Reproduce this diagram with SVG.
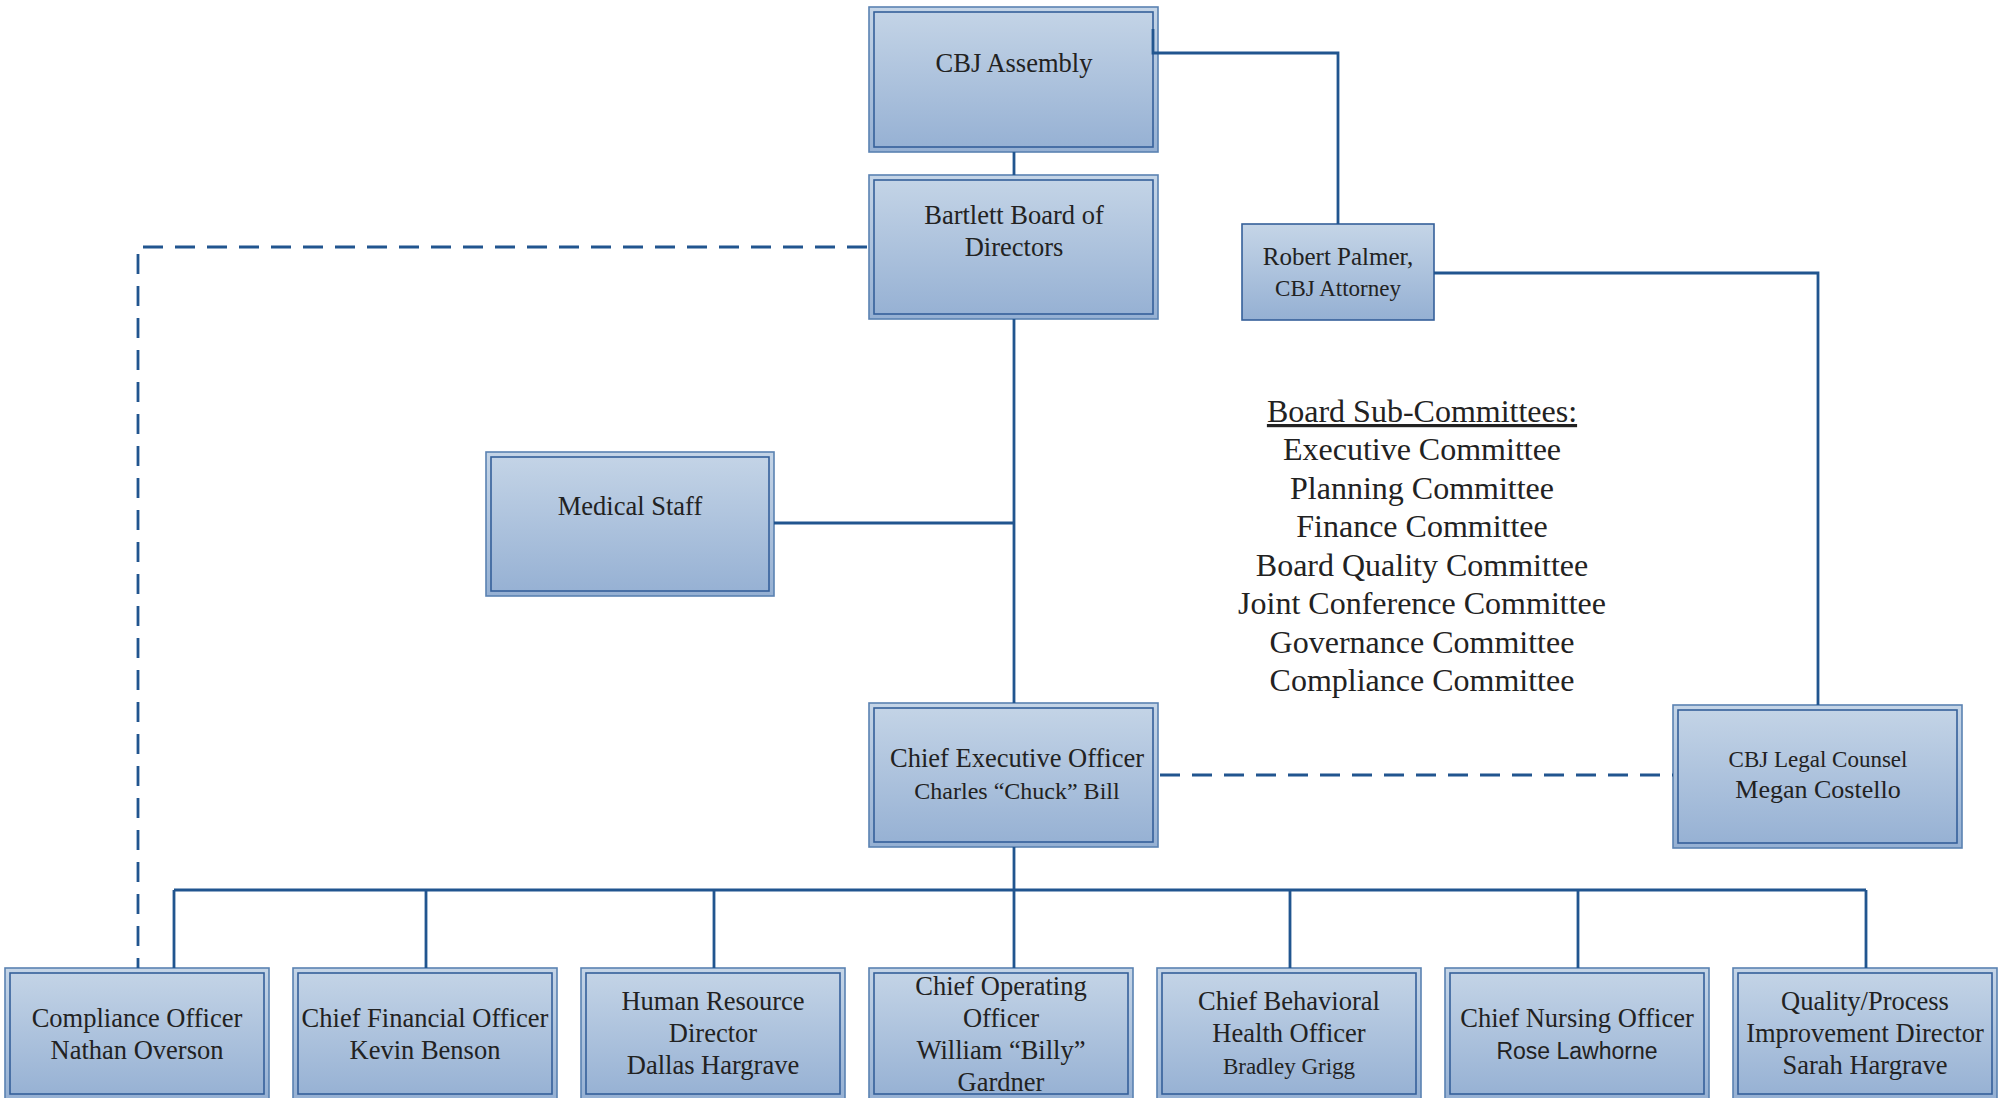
<svg xmlns="http://www.w3.org/2000/svg" width="2007" height="1098" viewBox="0 0 2007 1098">
<defs>
<linearGradient id="g" x1="0" y1="0" x2="0" y2="1">
<stop offset="0" stop-color="#c5d5e7"/>
<stop offset="1" stop-color="#95b0d3"/>
</linearGradient>
<style>
.o{fill:url(#g);stroke:#5a82b2;stroke-width:1.6}
.i{fill:none;stroke:#35609a;stroke-width:1.6}
.s{fill:url(#g);stroke:#35609a;stroke-width:1.6}
text{font-family:"Liberation Serif","Times New Roman",serif;fill:#222;text-anchor:middle}
.t26{font-size:26.5px}
.t22{font-size:23px}
.c{fill:none;stroke:#21558f;stroke-width:2.8}
.d{fill:none;stroke:#21558f;stroke-width:2.8;stroke-dasharray:20 12}
.sans{font-family:"Liberation Sans",Arial,sans-serif}
.com{font-size:32px}
</style>
</defs>
<g id="assembly">
<rect class="o" x="869" y="7" width="289" height="145"/>
<rect class="i" x="874" y="12" width="279" height="135"/>
<text class="t26" x="1014" y="72">CBJ Assembly</text>
</g>
<g id="board">
<rect class="o" x="869" y="175" width="289" height="144"/>
<rect class="i" x="874" y="180" width="279" height="134"/>
<text class="t26" x="1014" y="224">Bartlett Board of</text>
<text class="t26" x="1014" y="256">Directors</text>
</g>
<g id="palmer">
<rect class="s" x="1242" y="224" width="192" height="96"/>
<text x="1338" y="265" style="font-size:25px">Robert Palmer,</text>
<text class="t22" x="1338" y="296">CBJ Attorney</text>
</g>
<g id="medical">
<rect class="o" x="486" y="452" width="288" height="144"/>
<rect class="i" x="491" y="457" width="278" height="134"/>
<text class="t26" x="630" y="515">Medical Staff</text>
</g>
<g id="committees">
<text class="com" x="1422" y="422" text-decoration="underline">Board Sub-Committees:</text>
<text class="com" x="1422" y="460">Executive Committee</text>
<text class="com" x="1422" y="499">Planning Committee</text>
<text class="com" x="1422" y="537">Finance Committee</text>
<text class="com" x="1422" y="576">Board Quality Committee</text>
<text class="com" x="1422" y="614">Joint Conference Committee</text>
<text class="com" x="1422" y="653">Governance Committee</text>
<text class="com" x="1422" y="691">Compliance Committee</text>
</g>
<g id="ceo">
<rect class="o" x="869" y="703" width="289" height="144"/>
<rect class="i" x="874" y="708" width="279" height="134"/>
<text class="t26" x="1017" y="767">Chief Executive Officer</text>
<text x="1017" y="799" style="font-size:24px">Charles “Chuck” Bill</text>
</g>
<g id="legal">
<rect class="o" x="1673" y="705" width="289" height="143"/>
<rect class="i" x="1678" y="710" width="279" height="133"/>
<text class="t22" x="1818" y="767">CBJ Legal Counsel</text>
<text x="1818" y="798" style="font-size:26px">Megan Costello</text>
</g>
<g id="compliance">
<rect class="o" x="5" y="968" width="264" height="132"/>
<rect class="i" x="10" y="973" width="254" height="121"/>
<text class="t26" x="137" y="1027">Compliance Officer</text>
<text class="t26" x="137" y="1059">Nathan Overson</text>
</g>
<g id="cfo">
<rect class="o" x="293" y="968" width="264" height="132"/>
<rect class="i" x="298" y="973" width="254" height="121"/>
<text class="t26" x="425" y="1027">Chief Financial Officer</text>
<text class="t26" x="425" y="1059">Kevin Benson</text>
</g>
<g id="hr">
<rect class="o" x="581" y="968" width="264" height="132"/>
<rect class="i" x="586" y="973" width="254" height="121"/>
<text class="t26" x="713" y="1010">Human Resource</text>
<text class="t26" x="713" y="1042">Director</text>
<text class="t26" x="713" y="1074">Dallas Hargrave</text>
</g>
<g id="coo">
<rect class="o" x="869" y="968" width="264" height="132"/>
<rect class="i" x="874" y="973" width="254" height="121"/>
<text class="t26" x="1001" y="995">Chief Operating</text>
<text class="t26" x="1001" y="1027">Officer</text>
<text class="t26" x="1001" y="1059">William “Billy”</text>
<text class="t26" x="1001" y="1091">Gardner</text>
</g>
<g id="cbho">
<rect class="o" x="1157" y="968" width="264" height="132"/>
<rect class="i" x="1162" y="973" width="254" height="121"/>
<text class="t26" x="1289" y="1010">Chief Behavioral</text>
<text class="t26" x="1289" y="1042">Health Officer</text>
<text class="t22" x="1289" y="1074">Bradley Grigg</text>
</g>
<g id="cno">
<rect class="o" x="1445" y="968" width="264" height="132"/>
<rect class="i" x="1450" y="973" width="254" height="121"/>
<text class="t26" x="1577" y="1027">Chief Nursing Officer</text>
<text class="sans" x="1577" y="1059" style="font-size:23px">Rose Lawhorne</text>
</g>
<g id="quality">
<rect class="o" x="1733" y="968" width="264" height="132"/>
<rect class="i" x="1738" y="973" width="254" height="121"/>
<text class="t26" x="1865" y="1010">Quality/Process</text>
<text class="t26" x="1865" y="1042">Improvement Director</text>
<text class="t26" x="1865" y="1074">Sarah Hargrave</text>
</g>
<g id="connectors">
<path class="c" d="M1014 152V175"/>
<path class="c" d="M1153 29V53H1338V224"/>
<path class="c" d="M1434 273H1818V705"/>
<path class="c" d="M1014 319V703"/>
<path class="c" d="M774 523H1014"/>
<path class="c" d="M1014 847V890"/>
<path class="c" d="M174 890H1866"/>
<path class="c" d="M174 890V968M426 890V968M714 890V968M1014 890V968M1290 890V968M1578 890V968M1866 890V968"/>
<path class="d" d="M867 247H138V968"/>
<path class="d" d="M1160 775H1673"/>
</g>
</svg>
